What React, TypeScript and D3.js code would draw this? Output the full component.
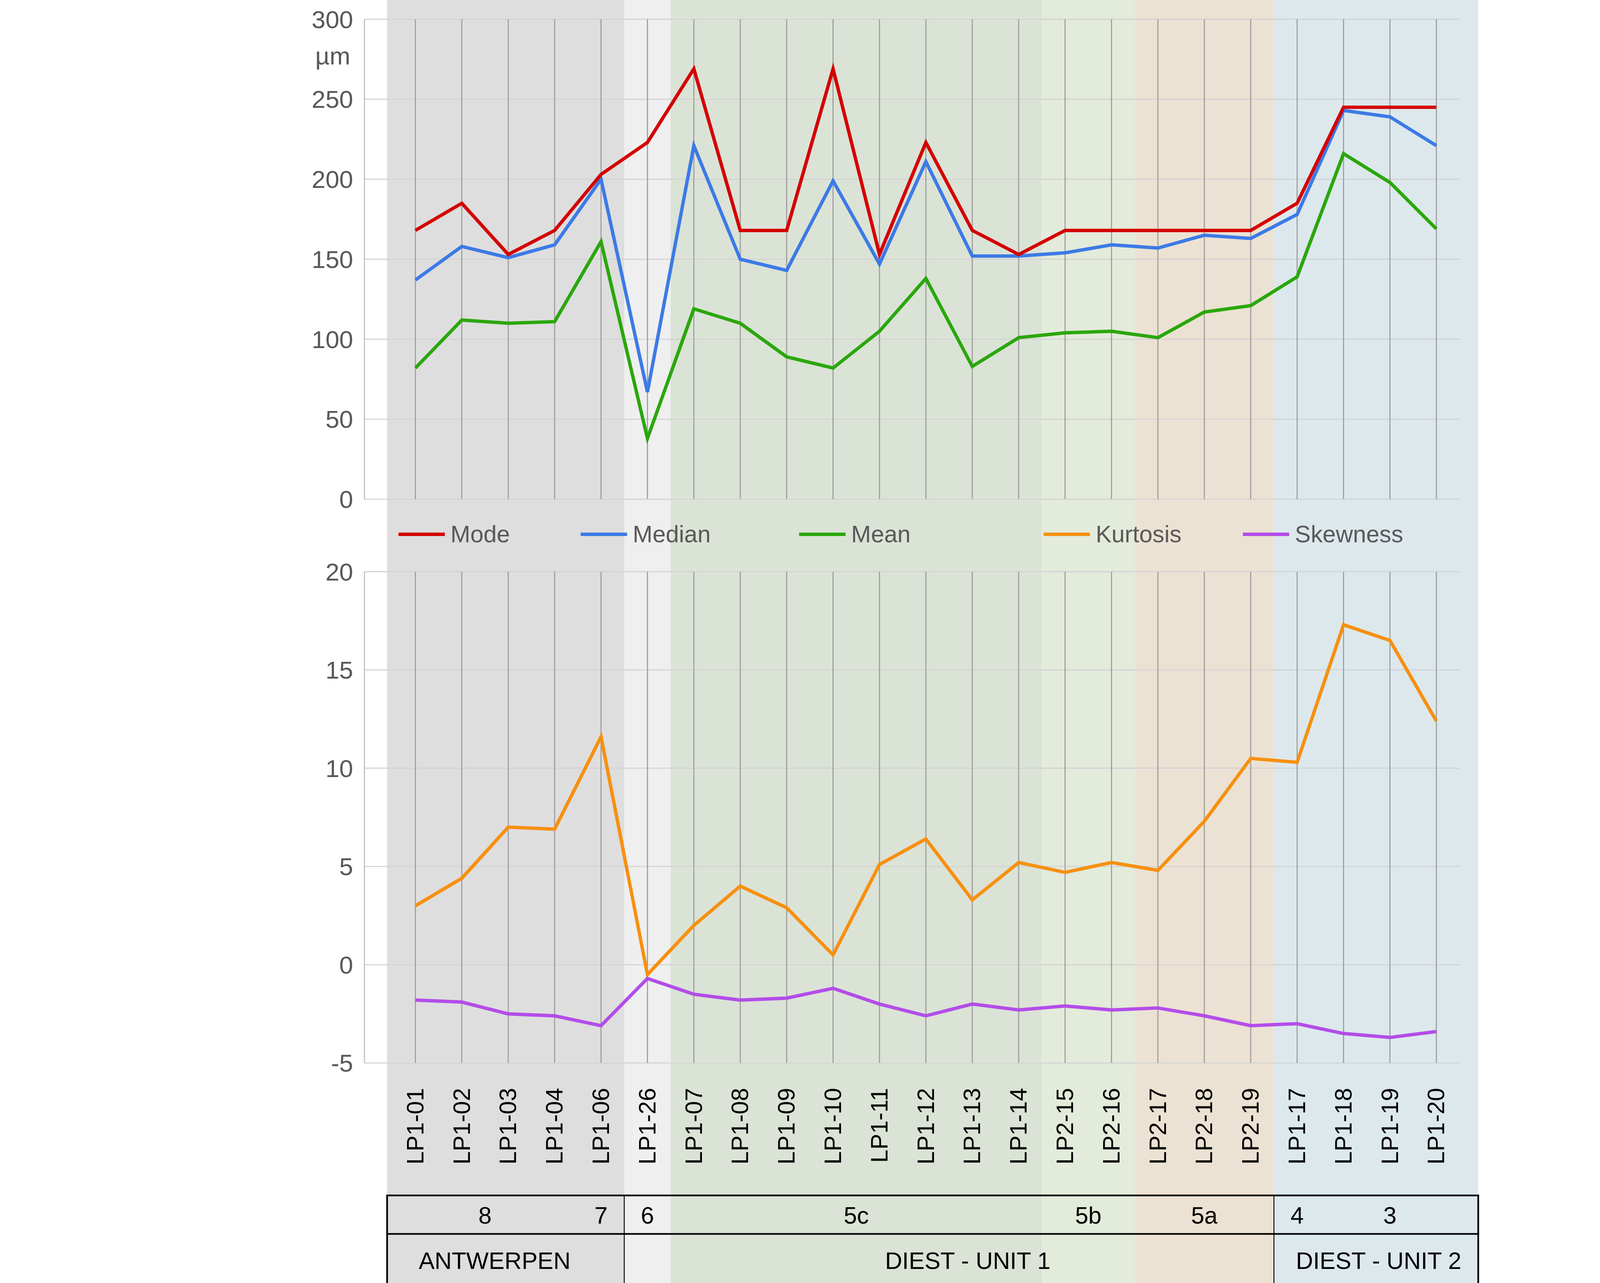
import React from "react";
import * as d3 from "d3";

const categories = ["LP1-01","LP1-02","LP1-03","LP1-04","LP1-06","LP1-26","LP1-07","LP1-08","LP1-09","LP1-10","LP1-11","LP1-12","LP1-13","LP1-14","LP2-15","LP2-16","LP2-17","LP2-18","LP2-19","LP1-17","LP1-18","LP1-19","LP1-20"];
const mode = [168,185,153,168,203,223,269,168,168,269,153,223,168,153,168,168,168,168,168,185,245,245,245];
const median = [137,158,151,159,200,67,221,150,143,199,147,211,152,152,154,159,157,165,163,178,243,239,221];
const mean = [82,112,110,111,161,38,119,110,89,82,105,138,83,101,104,105,101,117,121,139,216,198,169];
const kurtosis = [3.0,4.4,7.0,6.9,11.6,-0.5,2.0,4.0,2.9,0.5,5.1,6.4,3.3,5.2,4.7,5.2,4.8,7.3,10.5,10.3,17.3,16.5,12.4];
const skewness = [-1.8,-1.9,-2.5,-2.6,-3.1,-0.7,-1.5,-1.8,-1.7,-1.2,-2.0,-2.6,-2.0,-2.3,-2.1,-2.3,-2.2,-2.6,-3.1,-3.0,-3.5,-3.7,-3.4];
const topTicks = [0,50,100,150,200,250,300];
const bottomTicks = [-5,0,5,10,15,20];
// zones: first/last category index, colour
const zones = [
  { from: 0, to: 4, color: "#dedede" },
  { from: 5, to: 5, color: "#efefef" },
  { from: 6, to: 13, color: "#dbe3d7" },
  { from: 14, to: 15, color: "#e3ebdb" },
  { from: 16, to: 18, color: "#ece2d3" },
  { from: 19, to: 22, color: "#dde8ec" },
];
const units = [
  { label: "8", at: 1.5 }, { label: "7", at: 4 }, { label: "6", at: 5 },
  { label: "5c", at: 9.5 }, { label: "5b", at: 14.5 }, { label: "5a", at: 17 },
  { label: "4", at: 19 }, { label: "3", at: 21 },
];
const legend = [
  { name: "Mode", color: "#d40000", x: 352 },
  { name: "Median", color: "#3c7ae6", x: 513 },
  { name: "Mean", color: "#2aa70c", x: 706 },
  { name: "Kurtosis", color: "#f7900f", x: 922 },
  { name: "Skewness", color: "#b34de8", x: 1098 },
];

const S = 4500 / 1553;
const W = 4500, H = 3284;

export default function App() {
  const x = d3.scaleLinear().domain([0, categories.length - 1]).range([367 * S, 1269 * S]);
  const step = x(1) - x(0);
  const yTop = d3.scaleLinear().domain([0, 300]).range([441 * S, 17 * S]);
  const yBot = d3.scaleLinear().domain([-5, 20]).range([939 * S, 505 * S]);
  const left = 342 * S, right = 1306 * S, axisX = 322 * S;
  const tblTop = 1056 * S, tblMid = 1090 * S, tblBot = 1137 * S;
  const font = "Liberation Sans, Arial, sans-serif";
  const fsTick = 22 * S;
  const fs = 21 * S;
  const sw = 3 * S;

  const mk = (ys: d3.ScaleLinear<number, number>, data: number[]) =>
    d3.line<number>().x((_, i) => x(i)).y((d) => ys(d))(data) || "";

  const zoneX0 = (z: { from: number }) => (z.from === 0 ? left : x(z.from) - step / 2);
  const zoneX1 = (z: { to: number }) => (z.to === categories.length - 1 ? right : x(z.to) + step / 2);

  const panel = (ys: d3.ScaleLinear<number, number>, ticks: number[]) => (
    <g>
      {ticks.map((t) => (
        <g key={t}>
          <line x1={axisX} x2={right - 16 * S} y1={ys(t)} y2={ys(t)} stroke="#d4d4d4" strokeWidth={S} />
          <text x={312 * S} y={ys(t)} dy="0.35em" textAnchor="end" fontSize={fsTick} fill="#595959" fontFamily={font}>{t}</text>
        </g>
      ))}
      <line x1={axisX} x2={axisX} y1={ys.range()[0]} y2={ys.range()[1]} stroke="#bfbfbf" strokeWidth={S} />
      {categories.map((c, i) => (
        <line key={c} x1={x(i)} x2={x(i)} y1={ys.range()[0]} y2={ys.range()[1]} stroke="#a0a0a0" strokeWidth={S} />
      ))}
    </g>
  );

  return (
    <svg width={W} height={H} style={{ position: "absolute", left: 0, top: 0, background: "#fff" }}>
      {zones.map((z, i) => (
        <rect key={i} x={zoneX0(z)} y={0} width={zoneX1(z) - zoneX0(z)} height={tblBot} fill={z.color} />
      ))}
      {panel(yTop, topTicks)}
      <text x={294 * S} y={57 * S} textAnchor="middle" fontSize={fsTick} fill="#595959" fontFamily={font}>µm</text>
      {panel(yBot, bottomTicks)}

      <path d={mk(yTop, mean)} fill="none" stroke="#2aa70c" strokeWidth={sw} />
      <path d={mk(yTop, median)} fill="none" stroke="#3c7ae6" strokeWidth={sw} />
      <path d={mk(yTop, mode)} fill="none" stroke="#d40000" strokeWidth={sw} />
      <path d={mk(yBot, kurtosis)} fill="none" stroke="#f7900f" strokeWidth={sw} />
      <path d={mk(yBot, skewness)} fill="none" stroke="#b34de8" strokeWidth={sw} />

      {legend.map((l) => (
        <g key={l.name}>
          <line x1={l.x * S} x2={(l.x + 41) * S} y1={472 * S} y2={472 * S} stroke={l.color} strokeWidth={sw} />
          <text x={(l.x + 46) * S} y={479 * S} fontSize={fs} fill="#595959" fontFamily={font}>{l.name}</text>
        </g>
      ))}

      {categories.map((c, i) => (
        <text key={c} transform={`translate(${x(i) + 7 * S},${961 * S}) rotate(-90)`} textAnchor="end" fontSize={fs} fill="#000" fontFamily={font}>{c}</text>
      ))}

      <g stroke="#000" strokeWidth={1.5 * S} fill="none">
        <rect x={left} y={tblTop} width={right - left} height={tblBot - tblTop} />
        <line x1={left} x2={right} y1={tblMid} y2={tblMid} />
        <line x1={zoneX1(zones[0])} x2={zoneX1(zones[0])} y1={tblTop} y2={tblBot} strokeWidth={0.8 * S} />
        <line x1={zoneX0(zones[5])} x2={zoneX0(zones[5])} y1={tblTop} y2={tblBot} strokeWidth={0.8 * S} />
      </g>
      {units.map((u) => (
        <text key={u.label} x={x(u.at)} y={1081 * S} textAnchor="middle" fontSize={fs} fontFamily={font}>{u.label}</text>
      ))}
      <text x={437 * S} y={1121 * S} textAnchor="middle" fontSize={fs} fontFamily={font}>ANTWERPEN</text>
      <text x={855 * S} y={1121 * S} textAnchor="middle" fontSize={fs} fontFamily={font}>DIEST - UNIT 1</text>
      <text x={1218 * S} y={1121 * S} textAnchor="middle" fontSize={fs} fontFamily={font}>DIEST - UNIT 2</text>
    </svg>
  );
}
